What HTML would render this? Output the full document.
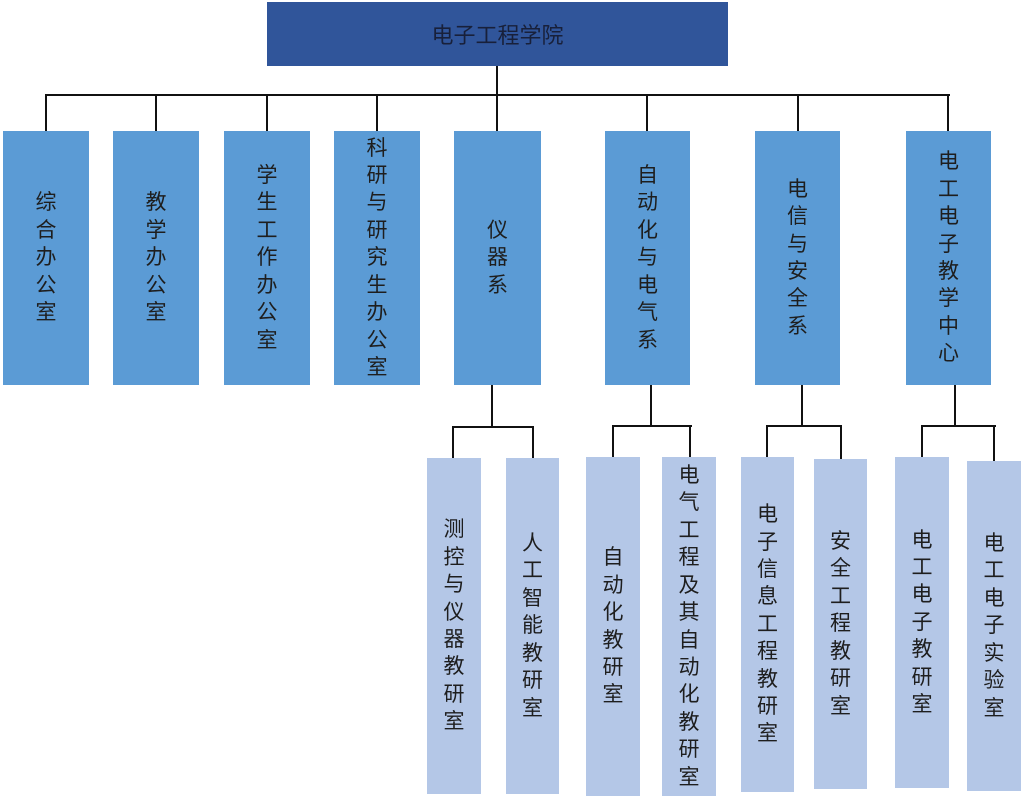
<!DOCTYPE html>
<html>
<head>
<meta charset="utf-8">
<style>
  html,body{margin:0;padding:0;background:#fff;}
  body{width:1024px;height:799px;position:relative;overflow:hidden;
       font-family:"Liberation Sans","Noto Sans CJK SC","WenQuanYi Zen Hei",sans-serif;}
  .b{position:absolute;display:flex;align-items:center;justify-content:center;text-align:center;color:#1e1e1e;}
  .l2{background:#5B9BD5;}
  .l3{background:#B4C7E7;}
  .v{font-size:21px;line-height:27.4px;}
  .h{position:absolute;background:#111;height:2px;}
  .vl{position:absolute;background:#111;width:2px;}
</style>
</head>
<body>
<!-- top -->
<div class="b" style="left:267px;top:2px;width:461px;height:64px;background:#30559A;color:#18203a;font-size:22px;">电子工程学院</div>

<!-- connectors top level -->
<div class="vl" style="left:496px;top:66px;height:65px;"></div>
<div class="h" style="left:45px;top:94px;width:905px;"></div>
<div class="vl" style="left:45px;top:94px;height:37px;"></div>
<div class="vl" style="left:155px;top:94px;height:37px;"></div>
<div class="vl" style="left:266px;top:94px;height:37px;"></div>
<div class="vl" style="left:376px;top:94px;height:37px;"></div>
<div class="vl" style="left:646px;top:94px;height:37px;"></div>
<div class="vl" style="left:797px;top:94px;height:37px;"></div>
<div class="vl" style="left:947px;top:94px;height:37px;"></div>

<!-- level 2 -->
<div class="b l2 v" style="left:3px;top:131px;width:86px;height:254px;">综<br>合<br>办<br>公<br>室</div>
<div class="b l2 v" style="left:113px;top:131px;width:86px;height:254px;">教<br>学<br>办<br>公<br>室</div>
<div class="b l2 v" style="left:224px;top:131px;width:86px;height:254px;">学<br>生<br>工<br>作<br>办<br>公<br>室</div>
<div class="b l2 v" style="left:334px;top:131px;width:86px;height:254px;">科<br>研<br>与<br>研<br>究<br>生<br>办<br>公<br>室</div>
<div class="b l2 v" style="left:454px;top:131px;width:87px;height:254px;">仪<br>器<br>系</div>
<div class="b l2 v" style="left:605px;top:131px;width:85px;height:254px;">自<br>动<br>化<br>与<br>电<br>气<br>系</div>
<div class="b l2 v" style="left:755px;top:131px;width:85px;height:254px;">电<br>信<br>与<br>安<br>全<br>系</div>
<div class="b l2 v" style="left:906px;top:131px;width:85px;height:254px;">电<br>工<br>电<br>子<br>教<br>学<br>中<br>心</div>

<!-- sub connectors A -->
<div class="vl" style="left:491px;top:385px;height:43px;"></div>
<div class="h" style="left:452px;top:426px;width:82px;"></div>
<div class="vl" style="left:452px;top:426px;height:32px;"></div>
<div class="vl" style="left:532px;top:426px;height:32px;"></div>
<!-- B -->
<div class="vl" style="left:650px;top:385px;height:42px;"></div>
<div class="h" style="left:612px;top:425px;width:80px;"></div>
<div class="vl" style="left:612px;top:425px;height:32px;"></div>
<div class="vl" style="left:689px;top:425px;height:32px;"></div>
<!-- C -->
<div class="vl" style="left:801px;top:385px;height:42px;"></div>
<div class="h" style="left:766px;top:425px;width:76px;"></div>
<div class="vl" style="left:766px;top:425px;height:32px;"></div>
<div class="vl" style="left:840px;top:425px;height:34px;"></div>
<!-- D -->
<div class="vl" style="left:954px;top:385px;height:42px;"></div>
<div class="h" style="left:921px;top:425px;width:75px;"></div>
<div class="vl" style="left:921px;top:425px;height:32px;"></div>
<div class="vl" style="left:993px;top:425px;height:36px;"></div>

<!-- level 3 -->
<div class="b l3 v" style="left:427px;top:458px;width:54px;height:336px;">测<br>控<br>与<br>仪<br>器<br>教<br>研<br>室</div>
<div class="b l3 v" style="left:506px;top:458px;width:53px;height:336px;">人<br>工<br>智<br>能<br>教<br>研<br>室</div>
<div class="b l3 v" style="left:586px;top:457px;width:54px;height:339px;">自<br>动<br>化<br>教<br>研<br>室</div>
<div class="b l3 v" style="left:662px;top:457px;width:54px;height:339px;">电<br>气<br>工<br>程<br>及<br>其<br>自<br>动<br>化<br>教<br>研<br>室</div>
<div class="b l3 v" style="left:741px;top:457px;width:53px;height:335px;">电<br>子<br>信<br>息<br>工<br>程<br>教<br>研<br>室</div>
<div class="b l3 v" style="left:814px;top:459px;width:53px;height:330px;">安<br>全<br>工<br>程<br>教<br>研<br>室</div>
<div class="b l3 v" style="left:895px;top:457px;width:54px;height:331px;">电<br>工<br>电<br>子<br>教<br>研<br>室</div>
<div class="b l3 v" style="left:967px;top:461px;width:54px;height:330px;">电<br>工<br>电<br>子<br>实<br>验<br>室</div>
</body>
</html>
